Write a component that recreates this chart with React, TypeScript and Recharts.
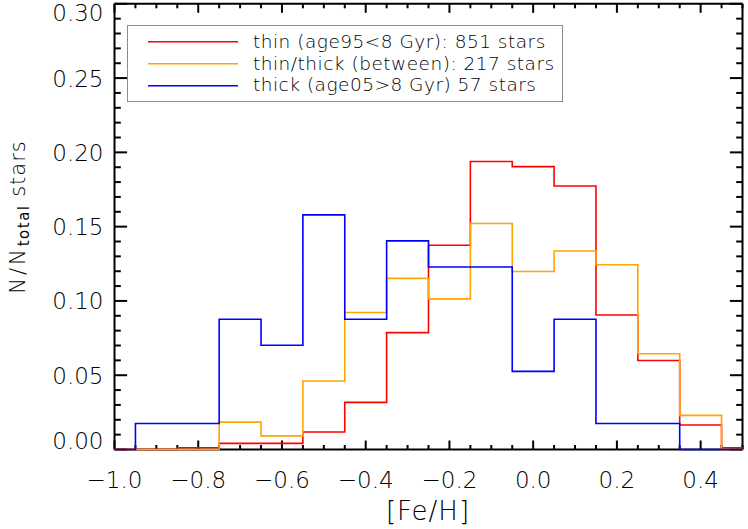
import React from 'react';
import { LineChart, Line, XAxis, YAxis, Legend } from 'recharts';

// ---- data ----
const binCenters = [-1.0, -0.9, -0.8, -0.7, -0.6, -0.5, -0.4, -0.3, -0.2, -0.1, 0.0, 0.1, 0.2, 0.3, 0.4, 0.5];
const thinValues = [0, 0, 0.0012, 0.0041, 0.0041, 0.0118, 0.0317, 0.0787, 0.1375, 0.1939, 0.1904, 0.1774, 0.0905, 0.0599, 0.0165, 0.0012];
const betweenValues = [0, 0, 0, 0.0184, 0.0092, 0.0461, 0.0922, 0.1152, 0.1014, 0.1521, 0.1198, 0.1336, 0.1244, 0.0645, 0.023, 0];
const thickValues = [0, 0.0175, 0.0175, 0.0877, 0.0702, 0.1579, 0.0877, 0.1404, 0.1228, 0.1228, 0.0526, 0.0877, 0.0175, 0.0175, 0, 0];
const binWidth = 0.1;

const seriesKeys = ['thin', 'between', 'thick'];
const seriesNames = ['thin (age95<8 Gyr): 851 stars', 'thin/thick (between): 217 stars', 'thick (age05>8 Gyr) 57 stars'];
const seriesColors = ['#ff0000', '#ffa500', '#0000ff'];
const seriesValues = [thinValues, betweenValues, thickValues];

const xDomain = [-1.0, 0.5];
const yDomain = [0, 0.3];
const xMajorTicks = [-1.0, -0.8, -0.6, -0.4, -0.2, 0.0, 0.2, 0.4];
const xMinorStep = 0.05;
const yMajorTicks = [0, 0.05, 0.1, 0.15, 0.2, 0.25, 0.3];
const yMinorStep = 0.01;

const xLabel = '[Fe/H]';
const yLabelMain = 'N/N';
const yLabelSub = 'total';
const yLabelTail = ' stars';

// ---- helpers ----
const rnd = (v: number) => Math.round(v * 1e6) / 1e6;
const buildTicks = (lo: number, hi: number, step: number) => {
  const n = Math.round((hi - lo) / step);
  return Array.from({ length: n + 1 }, (_, i) => rnd(lo + i * step));
};
const xTicks = buildTicks(xDomain[0], xDomain[1], xMinorStep);
const yTicks = buildTicks(yDomain[0], yDomain[1], yMinorStep);
const isMajor = (v: number, majors: number[]) => majors.some((m) => Math.abs(m - v) < 1e-6);

// step-histogram rows: one point at each bin's left edge (clamped to the axis range), plus the final right edge
const rows: any[] = binCenters.map((c, i) => {
  const row: any = { x: rnd(Math.max(c - binWidth / 2, xDomain[0])) };
  seriesKeys.forEach((k, s) => (row[k] = seriesValues[s][i]));
  return row;
});
{
  const last = binCenters.length - 1;
  const row: any = { x: rnd(Math.min(binCenters[last] + binWidth / 2, xDomain[1])) };
  seriesKeys.forEach((k, s) => (row[k] = seriesValues[s][last]));
  rows.push(row);
}

const FONT = '"DejaVu Sans", sans-serif';
const minus = (s: string) => s.replace('-', '\u2212');

const xTickLen = 9;
const yTickLen = 12.6;

const BottomTick = (props: any) => {
  const { x, y, payload } = props;
  const v = payload.value;
  const major = isMajor(v, xMajorTicks);
  return (
    <g>
      <line x1={x} x2={x} y1={y} y2={y - (major ? xTickLen : xTickLen / 2)} stroke="#000" strokeWidth={2} />
      {major && (
        <text x={x} y={y + 38} textAnchor="middle" fontSize={23} fontWeight={300} fontFamily={FONT} fill="#000">
          {minus(v.toFixed(1))}
        </text>
      )}
    </g>
  );
};

const TopTick = (props: any) => {
  const { x, y, payload } = props;
  const major = isMajor(payload.value, xMajorTicks);
  return <line x1={x} x2={x} y1={y} y2={y + (major ? xTickLen : xTickLen / 2)} stroke="#000" strokeWidth={2} />;
};

const LeftTick = (props: any) => {
  const { x, y, payload } = props;
  const v = payload.value;
  const major = isMajor(v, yMajorTicks);
  let base = y + 8.5;
  if (Math.abs(v - yDomain[0]) < 1e-6) base = y - 0.5;
  if (Math.abs(v - yDomain[1]) < 1e-6) base = y + 17;
  return (
    <g>
      <line x1={x} x2={x + (major ? yTickLen : yTickLen / 2)} y1={y} y2={y} stroke="#000" strokeWidth={2} />
      {major && (
        <text x={x - 11} y={base} textAnchor="end" fontSize={23} fontWeight={300} fontFamily={FONT} fill="#000">
          {v.toFixed(2)}
        </text>
      )}
    </g>
  );
};

const RightTick = (props: any) => {
  const { x, y, payload } = props;
  const major = isMajor(payload.value, yMajorTicks);
  return <line x1={x} x2={x - (major ? yTickLen : yTickLen / 2)} y1={y} y2={y} stroke="#000" strokeWidth={2} />;
};

const LegendBox = () => (
  <svg width={748} height={110} style={{ display: 'block', overflow: 'visible' }}>
    <rect x={127.5} y={25.5} width={435} height={76} fill="none" stroke="#8c8c8c" strokeWidth={1} />
    {seriesNames.map((name, i) => (
      <g key={name}>
        <line x1={148} x2={238} y1={41.8 + i * 22} y2={41.8 + i * 22} stroke={seriesColors[i]} strokeWidth={1.6} />
        <text x={253} y={47.8 + i * 21.7} fontSize={18.5} fontWeight={300} letterSpacing={0.5} fontFamily={FONT} fill="#000">
          {name}
        </text>
      </g>
    ))}
  </svg>
);

const axisLineStyle = { stroke: '#000', strokeWidth: 2 };

export default function App() {
  return (
    <div style={{ position: 'absolute', left: 0, top: 0, width: 748, height: 529, background: '#fff' }}>
      <LineChart width={748} height={529} data={rows} margin={{ top: 0, right: 0, bottom: 0, left: 0 }}>
        <XAxis
          xAxisId="b"
          type="number"
          dataKey="x"
          domain={xDomain}
          ticks={xTicks}
          interval={0}
          orientation="bottom"
          height={79.5}
          tickSize={0}
          tickMargin={0}
          tickLine={false}
          axisLine={axisLineStyle}
          tick={(p: any) => <BottomTick {...p} />}
          label={{
            content: () => (
              <text x={428} y={520} textAnchor="middle" fontSize={26} fontWeight={300} letterSpacing={1} fontFamily={FONT} fill="#000">
                {xLabel}
              </text>
            ),
          }}
        />
        <XAxis
          xAxisId="t"
          type="number"
          dataKey="x"
          domain={xDomain}
          allowDataOverflow
          ticks={xTicks}
          interval={0}
          orientation="top"
          height={3.8}
          tickSize={0}
          tickMargin={0}
          tickLine={false}
          axisLine={axisLineStyle}
          tick={(p: any) => <TopTick {...p} />}
        />
        <YAxis
          yAxisId="l"
          type="number"
          domain={yDomain}
          ticks={yTicks}
          interval={0}
          orientation="left"
          width={114.5}
          tickSize={0}
          tickMargin={0}
          tickLine={false}
          axisLine={axisLineStyle}
          tick={(p: any) => <LeftTick {...p} />}
          label={{
            content: () => (
              <text
                transform="translate(25, 217) rotate(-90)"
                textAnchor="middle"
                fontSize={21}
                fontWeight={300}
                fontFamily={FONT}
                fill="#000"
              >
                <tspan letterSpacing={3}>{yLabelMain}</tspan>
                <tspan fontSize={15} fontWeight={400} dy={4} letterSpacing={1.5}>
                  {yLabelSub}
                </tspan>
                <tspan dy={-4} letterSpacing={1}>{yLabelTail}</tspan>
              </text>
            ),
          }}
        />
        <YAxis
          yAxisId="r"
          type="number"
          domain={yDomain}
          allowDataOverflow
          ticks={yTicks}
          interval={0}
          orientation="right"
          width={5.5}
          tickSize={0}
          tickMargin={0}
          tickLine={false}
          axisLine={axisLineStyle}
          tick={(p: any) => <RightTick {...p} />}
        />
        <Legend
          layout="horizontal"
          verticalAlign="middle"
          content={() => <LegendBox />}
          wrapperStyle={{ position: 'absolute', left: 0, top: 0, width: 748, margin: 0 }}
        />
        {seriesKeys.map((k, i) => (
          <Line
            key={k}
            xAxisId="b"
            yAxisId="l"
            type="stepAfter"
            dataKey={k}
            name={seriesNames[i]}
            stroke={seriesColors[i]}
            strokeWidth={1.6}
            dot={false}
            activeDot={false}
            isAnimationActive={false}
            {...({ zIndex: 2000 } as any)}
          />
        ))}
      </LineChart>
    </div>
  );
}
